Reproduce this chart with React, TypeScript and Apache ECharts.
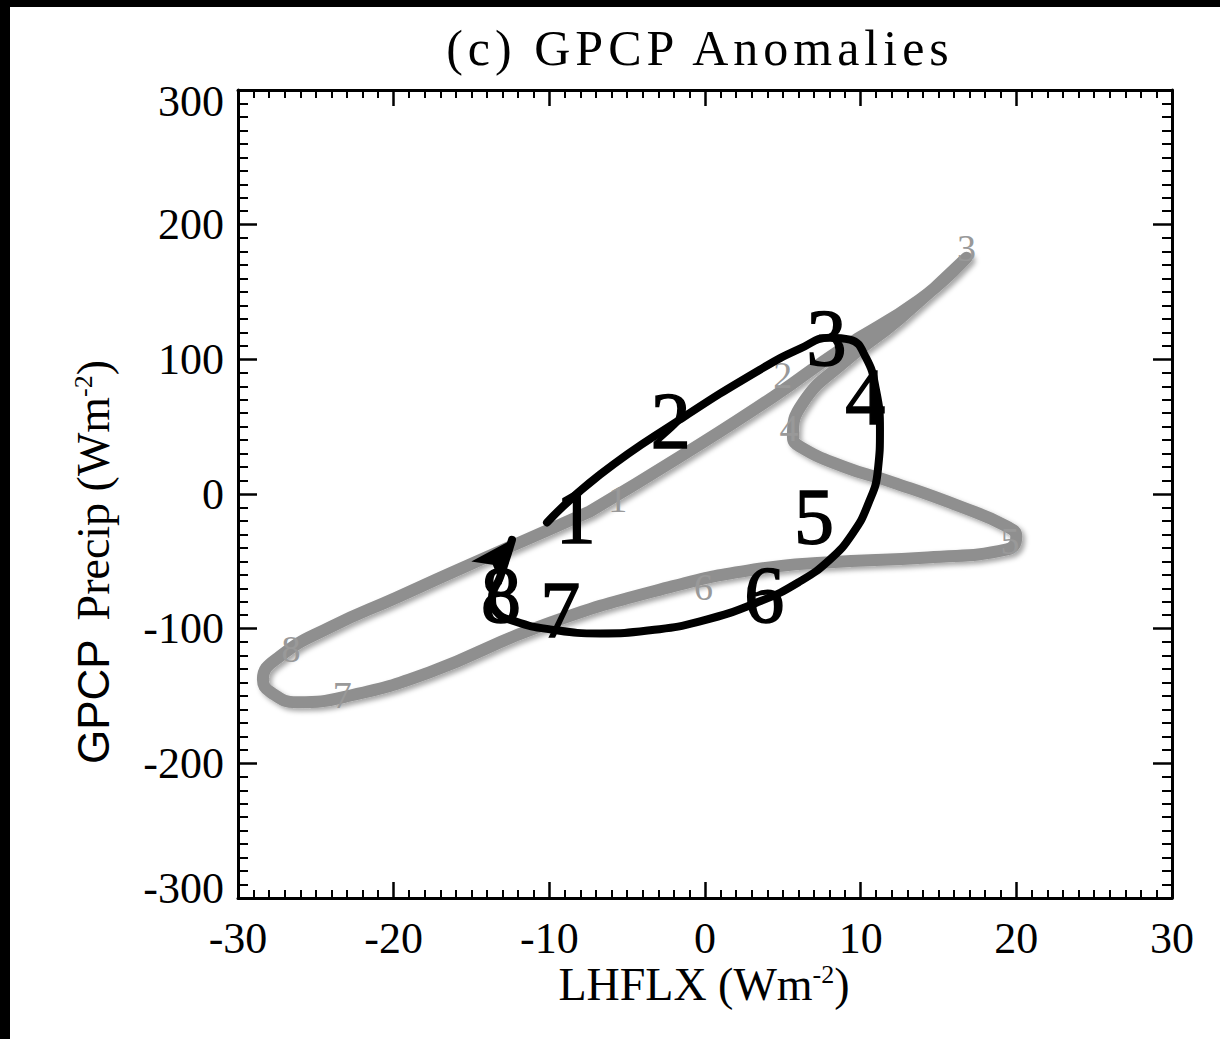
import React, { useEffect, useRef } from 'react';
import * as echarts from 'echarts';

// Axis ranges (ticks derive from these)
const X_MIN = -30;
const X_MAX = 30;
const X_STEP = 10;
const Y_MIN = -300;
const Y_MAX = 300;
const Y_STEP = 100;

const TITLE = '(c) GPCP Anomalies';

// Gray loop, in order 1 -> 8 -> 1
const grayCurve: number[][] = [
  [-7.4, -13.0],
  [-1.6, 27.8],
  [4.4, 72.3],
  [8.7, 107.2],
  [13.8, 144.3],
  [16.8, 175.4],
  [12.5, 130],
  [8.9, 97.5],
  [6.3, 67.9],
  [5.65, 42.6],
  [6.1, 35.2],
  [8.9, 20.4],
  [12.1, 8.5],
  [16.4, -9.3],
  [19.4, -24.1],
  [20.0, -31.5],
  [19.4, -41.2],
  [14.3, -47.1],
  [7.8, -50.8],
  [3.5, -55.5],
  [-2.1, -68.6],
  [-10.6, -98.3],
  [-17.7, -132.4],
  [-23.0, -150.2],
  [-26.2, -154.6],
  [-27.9, -147.2],
  [-28.4, -137.6],
  [-27.3, -120.5],
  [-24.1, -99.0],
  [-19.8, -76.8],
  [-16.4, -59.0],
  [-10.0, -26.3],
  [-7.4, -13.0],
];

// Black trajectory, from month 1 to the arrow tip after month 8
const blackCurve: number[][] = [
  [-10.15, -21.1],
  [-6.74, 14.5],
  [-1.61, 55.3],
  [3.53, 92.3],
  [6.1, 107.9],
  [8.03, 116.1],
  [9.31, 114.6],
  [10.34, 101.2],
  [10.98, 77.5],
  [11.24, 47.8],
  [11.11, 18.2],
  [10.47, -7.8],
  [9.44, -30],
  [8.03, -48.6],
  [6.1, -64.9],
  [3.53, -79.7],
  [-0.32, -94.6],
  [-3.53, -101.2],
  [-6.74, -103.5],
  [-9.96, -100.5],
  [-12.2, -94.6],
  [-13.43, -87.1],
  [-13.68, -76.8],
  [-13.17, -61.9],
  [-12.4, -34],
];

// Arrow head: [x0, y0, x1(tip), y1(tip)]
const arrowSegment: number[][] = [[-14.4, -64, -12.4, -34]];

// Month labels
const grayLabelX = [-5.6, 5.0, 16.8, 5.4, 19.6, -0.1, -23.3, -26.6];
const grayLabelY = [-4, 88, 183, 49, -35, -69, -149, -115];
const blackLabelX = [-8.3, -2.2, 7.8, 10.3, 7.0, 3.8, -9.3, -13.1];
const blackLabelY = [-16, 54, 116, 72, -17, -75, -86, -75];
const monthNames = ['1', '2', '3', '4', '5', '6', '7', '8'];

const SERIF = '"Liberation Serif", "Times New Roman", serif';
const SANS = '"Liberation Sans", Arial, sans-serif';

export default function App() {
  const ref = useRef<HTMLDivElement>(null);

  useEffect(() => {
    const el = ref.current as HTMLDivElement;
    const chart = echarts.init(el, null, { renderer: 'svg' });

    const lineStyleAxis = { color: '#000', width: 3 };
    const xBase = (position: string, showLabel: boolean) => ({
      type: 'value',
      min: X_MIN,
      max: X_MAX,
      interval: X_STEP,
      position,
      axisLine: { show: true, onZero: false, lineStyle: lineStyleAxis },
      axisTick: { show: true, inside: true, length: 16, lineStyle: { color: '#000', width: 2.5 } },
      minorTick: { show: true, splitNumber: 10, length: 8, lineStyle: { color: '#000', width: 2 } },
      splitLine: { show: false },
      minorSplitLine: { show: false },
      axisLabel: {
        show: showLabel,
        margin: 18,
        fontFamily: SERIF,
        fontSize: 44,
        color: '#000',
      },
    });
    const yBase = (position: string, showLabel: boolean) => ({
      type: 'value',
      min: Y_MIN,
      max: Y_MAX,
      interval: Y_STEP,
      position,
      axisLine: { show: true, onZero: false, lineStyle: lineStyleAxis },
      axisTick: { show: true, inside: true, length: 19, lineStyle: { color: '#000', width: 2.5 } },
      minorTick: { show: true, splitNumber: 10, length: 10, lineStyle: { color: '#000', width: 2 } },
      splitLine: { show: false },
      minorSplitLine: { show: false },
      axisLabel: {
        show: showLabel,
        margin: 14,
        fontFamily: SERIF,
        fontSize: 44,
        color: '#000',
        formatter: (v: number) =>
          v === Y_MAX ? `{t|${v}}` : v === Y_MIN ? `{b|${v}}` : `{n|${v}}`,
        rich: {
          t: { fontFamily: SERIF, fontSize: 44, color: '#000', padding: [22, 0, 0, 0] },
          b: { fontFamily: SERIF, fontSize: 44, color: '#000', padding: [0, 0, 20, 0] },
          n: { fontFamily: SERIF, fontSize: 44, color: '#000' },
        },
      },
    });

    const labelData = (xs: number[], ys: number[]) =>
      xs.map((x, i) => [x, ys[i], i]);

    const labelSeries = (
      xs: number[],
      ys: number[],
      size: number,
      fill: string,
      strokeWidth: number,
      z: number
    ) => ({
      type: 'custom',
      data: labelData(xs, ys),
      silent: true,
      z,
      encode: { x: 0, y: 1 },
      renderItem: (params: any, api: any) => {
        const p = api.coord([api.value(0), api.value(1)]);
        return {
          type: 'text',
          x: p[0],
          y: p[1],
          style: {
            text: monthNames[api.value(2)],
            fontFamily: SERIF,
            fontSize: size,
            fill,
            stroke: strokeWidth > 0 ? fill : 'none',
            lineWidth: strokeWidth,
            align: 'center',
            verticalAlign: 'middle',
          },
        };
      },
    });

    const nameRich = {
      s: { fontFamily: SERIF, fontSize: 46, lineHeight: 46, color: '#000' },
      g: { fontFamily: SANS, fontSize: 44, lineHeight: 46, color: '#000' },
      sp: { fontFamily: SERIF, fontSize: 76, lineHeight: 46, color: '#000' },
      u: { fontFamily: SERIF, fontSize: 26, verticalAlign: 'top', color: '#000' },
    };

    chart.setOption({
      animation: false,
      backgroundColor: '#fff',
      grid: { left: 238, right: 48, top: 90, bottom: 141, containLabel: false },
      xAxis: [xBase('bottom', true), xBase('top', false)],
      yAxis: [yBase('left', true), yBase('right', false)],
      graphic: [
        { type: 'rect', shape: { x: 0, y: 0, width: 1220, height: 7 }, style: { fill: '#000' }, silent: true },
        { type: 'rect', shape: { x: 0, y: 0, width: 10, height: 1039 }, style: { fill: '#000' }, silent: true },
        {
          type: 'text',
          x: 700,
          y: 48,
          style: {
            text: TITLE,
            fontFamily: SERIF,
            fontSize: 50,
            fill: '#000',
            align: 'center',
            verticalAlign: 'middle',
          },
        },
        {
          type: 'text',
          x: 704,
          y: 984,
          style: {
            text: '{s|LHFLX (Wm}{u|-2}{s|)}',
            rich: nameRich,
            align: 'center',
            verticalAlign: 'middle',
            fill: '#000',
          },
        },
        {
          type: 'text',
          x: 93,
          y: 562,
          rotation: Math.PI / 2,
          style: {
            text: '{g|GPCP}{sp| }{s|Precip (Wm}{u|-2}{s|)}',
            rich: nameRich,
            align: 'center',
            verticalAlign: 'middle',
            fill: '#000',
          },
        },
      ],
      series: [
        {
          type: 'line',
          data: grayCurve,
          smooth: 0.5,
          symbol: 'none',
          showSymbol: false,
          silent: true,
          z: 2,
          lineStyle: {
            color: '#8f8f8f',
            width: 12,
            cap: 'round',
            join: 'round',
            shadowColor: 'rgba(0,0,0,0.35)',
            shadowBlur: 5,
            shadowOffsetX: 3,
            shadowOffsetY: 3,
          },
        },
        labelSeries(grayLabelX, grayLabelY, 38, '#999999', 0, 3),
        {
          type: 'line',
          data: blackCurve,
          smooth: 0.5,
          symbol: 'none',
          showSymbol: false,
          silent: true,
          z: 4,
          lineStyle: { color: '#000', width: 8, cap: 'round', join: 'round' },
        },
        {
          type: 'custom',
          data: arrowSegment,
          silent: true,
          z: 5,
          encode: { x: [0, 2], y: [1, 3] },
          renderItem: (params: any, api: any) => {
            const p0 = api.coord([api.value(0), api.value(1)]);
            const p1 = api.coord([api.value(2), api.value(3)]);
            const dx = p1[0] - p0[0];
            const dy = p1[1] - p0[1];
            const len = Math.hypot(dx, dy) || 1;
            const ux = dx / len;
            const uy = dy / len;
            const L = 42;
            const W = 19;
            const bx = p1[0] - ux * L;
            const by = p1[1] - uy * L;
            const nx = -uy;
            const ny = ux;
            return {
              type: 'polygon',
              shape: {
                points: [
                  p1,
                  [bx + nx * W, by + ny * W],
                  [p1[0] - ux * L * 0.75, p1[1] - uy * L * 0.75],
                  [bx - nx * W, by - ny * W],
                ],
              },
              style: { fill: '#000' },
            };
          },
        },
        labelSeries(blackLabelX, blackLabelY, 80, '#000000', 1.5, 6),
      ],
    });

    const applySpacing = () => {
      el.querySelectorAll('text').forEach((t) => {
        if (t.textContent === TITLE) t.setAttribute('letter-spacing', '5');
      });
    };
    applySpacing();
    chart.on('finished', applySpacing);

    return () => chart.dispose();
  }, []);

  return (
    <div
      ref={ref}
      style={{ position: 'absolute', left: 0, top: 0, width: 1220, height: 1039, background: '#fff' }}
    />
  );
}
